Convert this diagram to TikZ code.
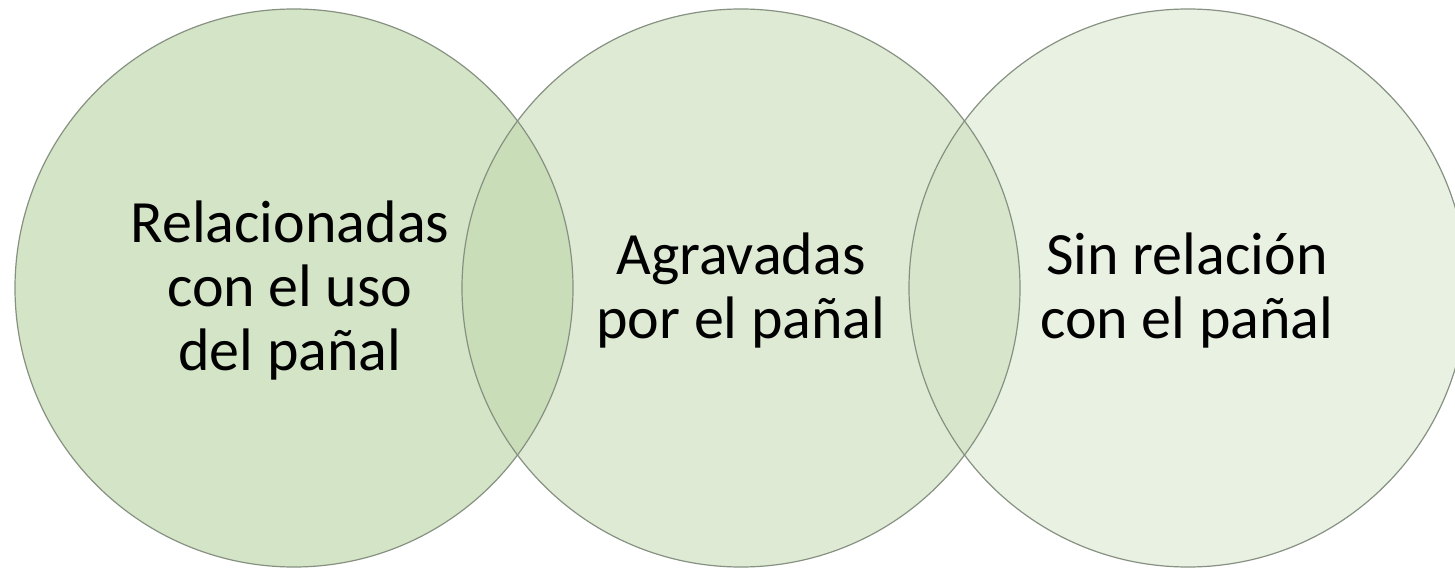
\documentclass[tikz,border=0pt]{standalone}
\usepackage{fontspec}
\setmainfont{Carlito}
\definecolor{cleft}{RGB}{212,228,198}
\definecolor{cmid}{RGB}{222,234,212}
\definecolor{cright}{RGB}{233,241,227}
\definecolor{clm}{RGB}{200,221,184}
\definecolor{cmr}{RGB}{215,229,203}
\definecolor{cedge}{RGB}{135,145,130}
\tikzset{
  ring/.style={circle, minimum size=558pt, inner sep=0pt},
  ringline/.style={draw=cedge, line width=1.2pt},
  label/.style={align=center, font=\fontsize{60pt}{64pt}\selectfont, text=black}
}
\begin{document}
\begin{tikzpicture}[x=1pt,y=-1pt]
\useasboundingbox (0,0) rectangle (1455,569);
\clip (0,0) rectangle (1455,569);
\fill[white] (0,0) rectangle (1455,569);
% circles
\node[ring, fill=cleft] (L) at (294,288) {};
\node[ring, fill=cmid] (M) at (741,288) {};
\node[ring, fill=cright] (R) at (1188,288) {};
% overlaps
\begin{scope}
  \clip (294,288) circle[radius=279];
  \fill[clm] (741,288) circle[radius=279];
\end{scope}
\begin{scope}
  \clip (741,288) circle[radius=279];
  \fill[cmr] (1188,288) circle[radius=279];
\end{scope}
% outlines
\draw[ringline] (L.center) circle[radius=279];
\draw[ringline] (M.center) circle[radius=279];
\draw[ringline] (R.center) circle[radius=279];
% texts
\node[label] (tL) at (290,291) {Relacionadas\\con el uso\\del pañal};
\node[label] (tM) at (741,291) {Agravadas\\por el pañal};
\node[label] (tR) at (1187,291) {Sin relación\\con el pañal};
\end{tikzpicture}
\end{document}
